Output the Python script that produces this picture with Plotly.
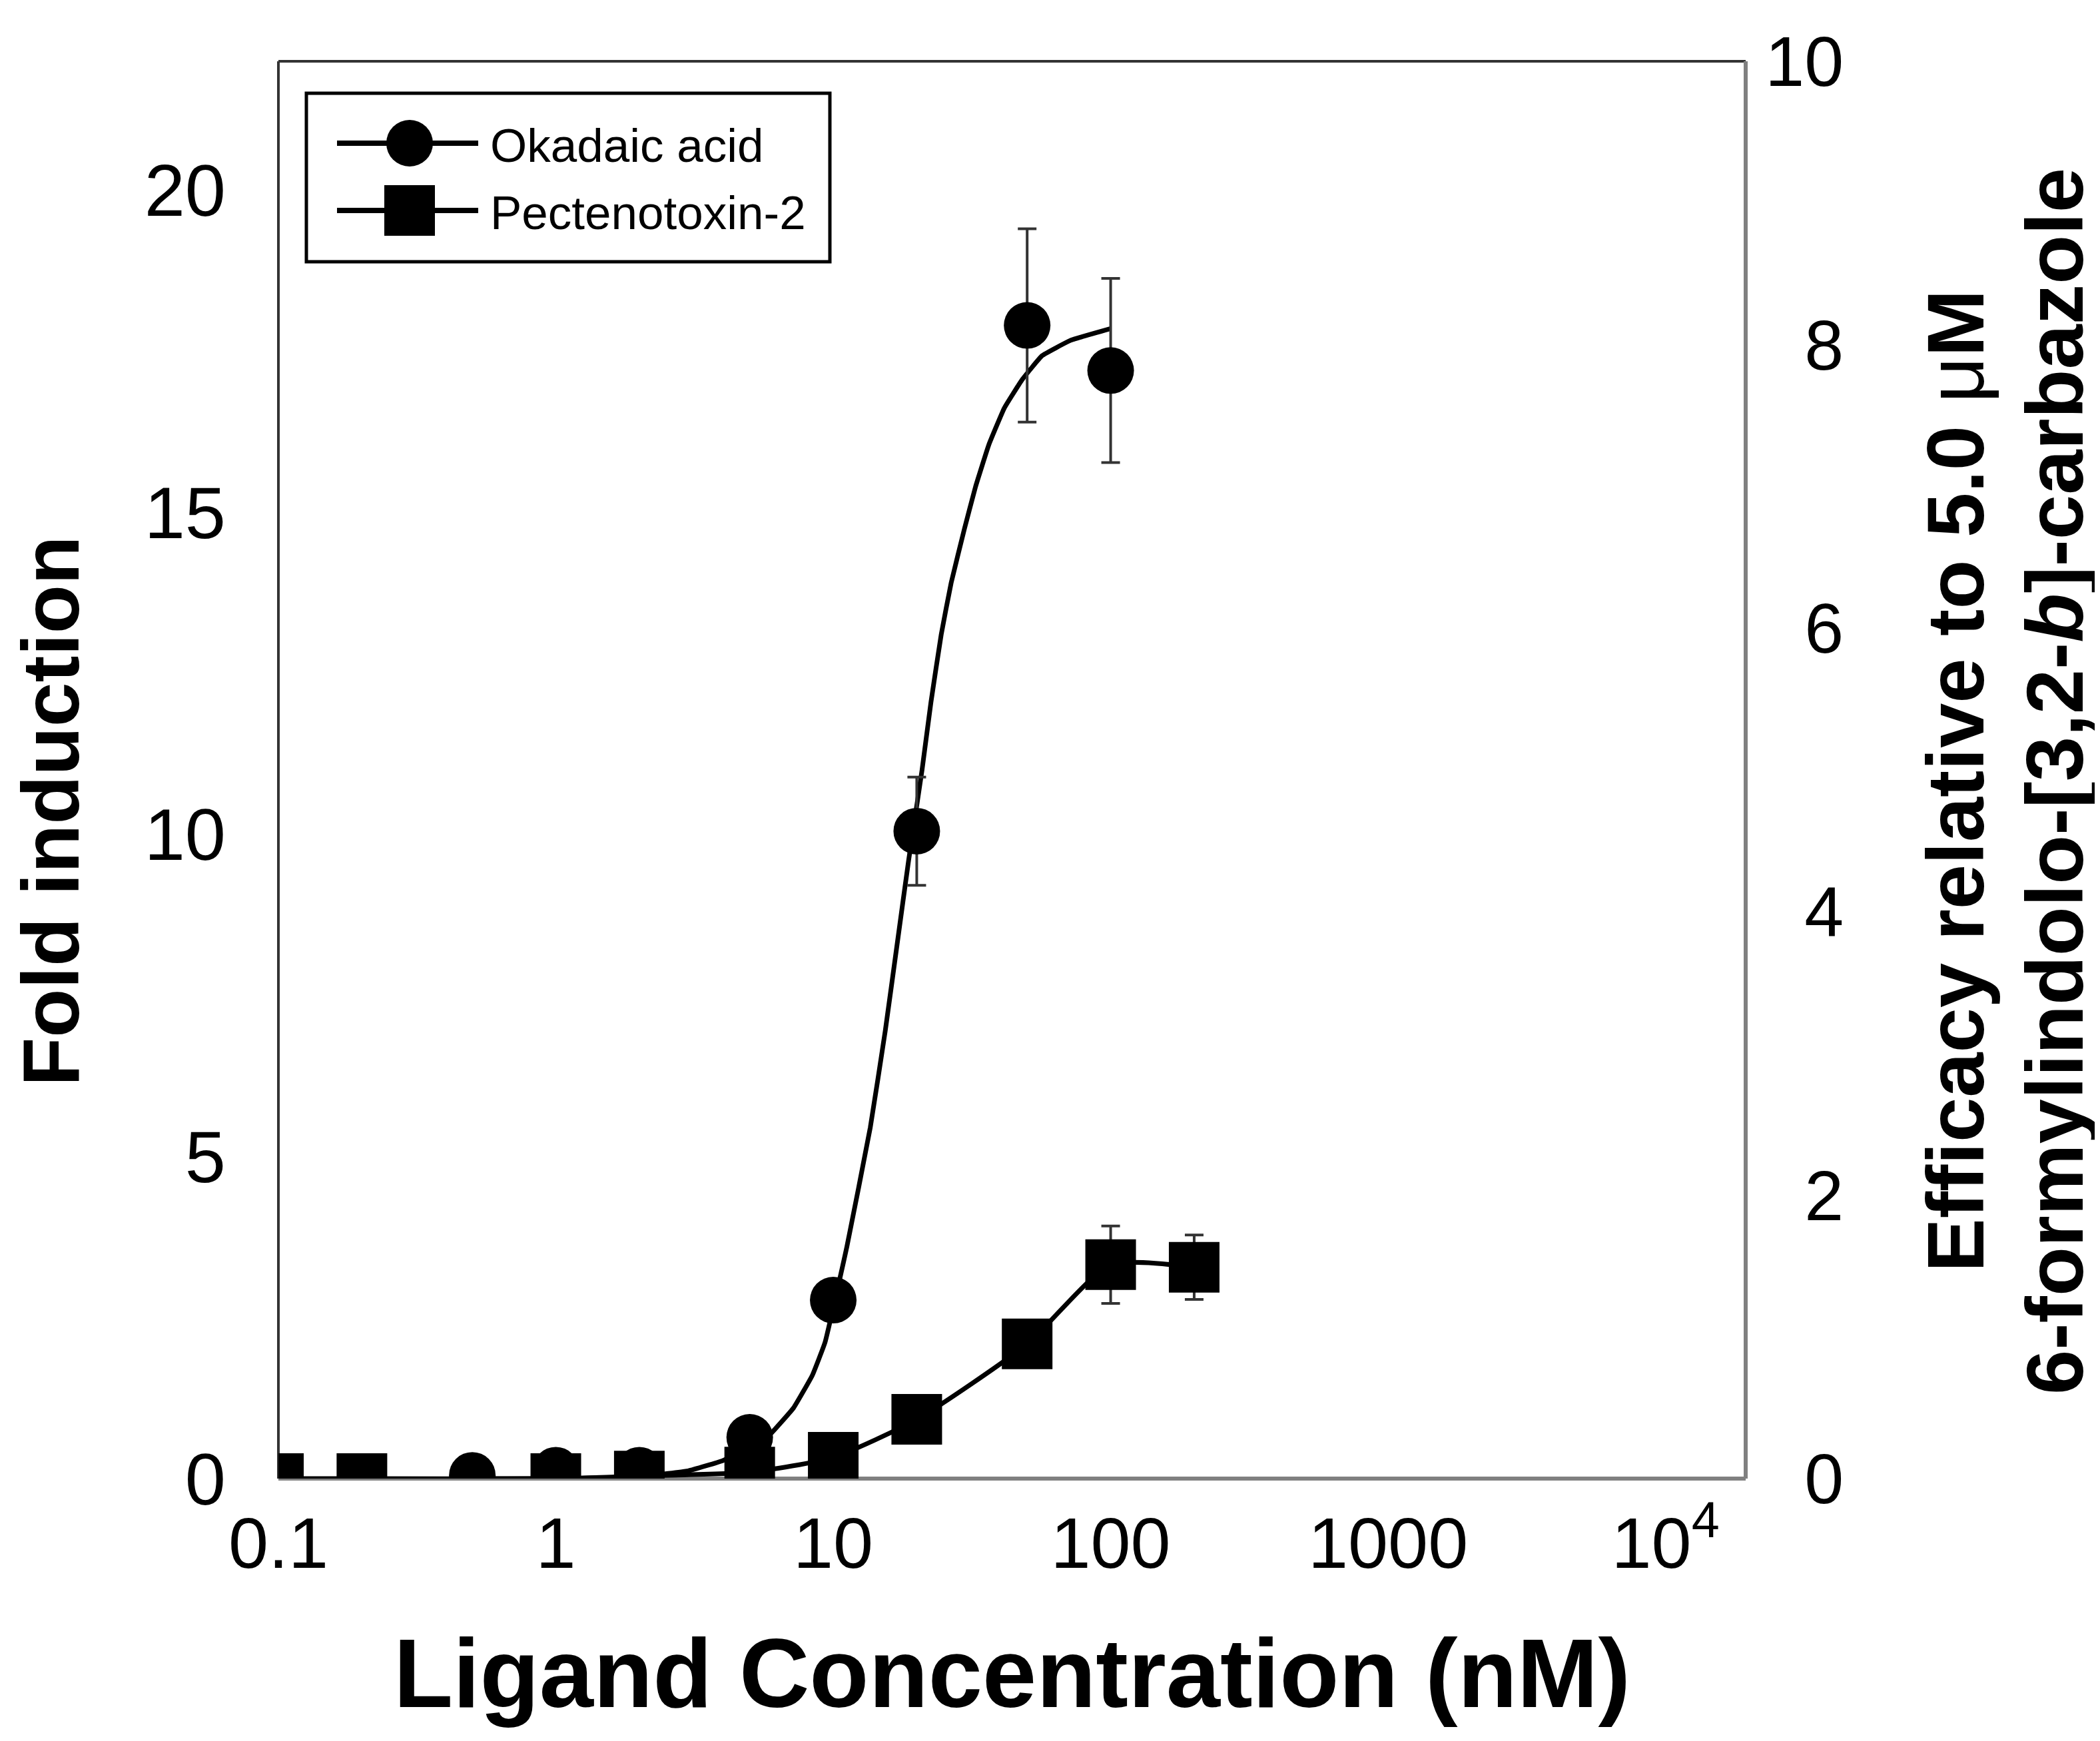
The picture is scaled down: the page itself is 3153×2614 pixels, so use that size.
import plotly.graph_objects as go

# ---------------- data ----------------
oa_x = [0.5, 1, 2, 5, 10, 20, 50, 100]
oa_y = [0.05, 0.13, 0.13, 0.64, 2.77, 10.05, 17.9, 17.2]
oa_err = [0, 0, 0, 0, 0, 0.84, 1.5, 1.43]

ptx_x = [0.1, 0.2, 1, 2, 5, 10, 20, 50, 100, 200]
ptx_y = [0.0, 0.0, 0.0, 0.04, 0.1, 0.33, 0.92, 2.09, 3.32, 3.28]
ptx_err = [0, 0, 0, 0, 0, 0, 0, 0, 0.6, 0.5]

# fitted okadaic acid curve
oa_fit_x = [0.5, 1, 2, 3, 4, 5, 5.9, 7.2, 8.4, 9.35, 11.2, 13.6, 15.4, 17,
            18.7, 20.9, 22.5, 24.5, 26.6, 29.7, 32.6, 36.4, 41.4, 48, 56.6,
            71.9, 100]
oa_fit_y = [0.0, 0.0, 0.03, 0.12, 0.28, 0.5, 0.68, 1.1, 1.6, 2.12, 3.6, 5.45,
            6.95, 8.3, 9.6, 11.0, 12.05, 13.1, 13.9, 14.74, 15.4, 16.05,
            16.62, 17.06, 17.43, 17.67, 17.85]

x_tickvals = [0.1, 1, 10, 100, 1000, 10000]
x_ticktext = ["0.1", "1", "10", "100", "1000", "10<sup>4</sup>"]
y_tickvals = [0, 5, 10, 15, 20]
y2_tickvals = [0, 2, 4, 6, 8, 10]
y2_ticktext = ["\u20070", "\u20072", "\u20074", "\u20076", "\u20078", "10"]

series_names = ["Okadaic acid", "Pectenotoxin-2"]

# ---------------- layout geometry (pixels) ----------------
W, H = 3153, 2614
L, R, T, B = 410, 2613, 84, 2212
FONT = "Liberation Sans, Arial, sans-serif"


def px(xp):
    return (xp - L) / (R - L)


def py(yp):
    return (B - yp) / (B - T)


fig = go.Figure()

# fitted curve
fig.add_trace(go.Scatter(
    x=oa_fit_x, y=oa_fit_y, mode="lines",
    line=dict(color="black", width=7, shape="spline", smoothing=0.3),
    showlegend=False, hoverinfo="skip"))

# pectenotoxin-2
fig.add_trace(go.Scatter(
    x=ptx_x, y=ptx_y, mode="lines+markers", name=series_names[1],
    line=dict(color="black", width=7, shape="spline", smoothing=0.6),
    marker=dict(symbol="square", size=76, color="black"),
    error_y=dict(type="data", array=ptx_err, color="#333333",
                 thickness=4, width=14),
    showlegend=False))

# okadaic acid points
fig.add_trace(go.Scatter(
    x=oa_x, y=oa_y, mode="markers", name=series_names[0],
    marker=dict(symbol="circle", size=70, color="black"),
    error_y=dict(type="data", array=oa_err, color="#333333",
                 thickness=4, width=14),
    showlegend=False))

# empty trace so that the right-hand axis is drawn
fig.add_trace(go.Scatter(x=[None], y=[None], yaxis="y2", mode="markers",
                         showlegend=False, hoverinfo="skip"))

shapes = []
# frame
shapes.append(dict(type="line", xref="paper", yref="paper", x0=0, x1=0, y0=0, y1=1,
                   line=dict(color="#333333", width=4), layer="below"))
shapes.append(dict(type="line", xref="paper", yref="paper", x0=0, x1=1, y0=1, y1=1,
                   line=dict(color="#333333", width=4), layer="below"))
shapes.append(dict(type="line", xref="paper", yref="paper", x0=1, x1=1, y0=0, y1=1,
                   line=dict(color="#808080", width=6), layer="below"))
shapes.append(dict(type="line", xref="paper", yref="paper", x0=0, x1=1, y0=0, y1=0,
                   line=dict(color="#808080", width=6), layer="below"))

# legend box
shapes.append(dict(type="rect", xref="paper", yref="paper",
                   x0=px(452), x1=px(1238), y0=py(385), y1=py(132),
                   line=dict(color="black", width=5), fillcolor="white", layer="above"))
for ry in [207, 308]:
    shapes.append(dict(type="line", xref="paper", yref="paper",
                       x0=px(498), x1=px(710), y0=py(ry), y1=py(ry),
                       line=dict(color="black", width=8), layer="above"))
# legend glyphs
shapes.append(dict(type="circle", xref="paper", yref="paper",
                   x0=px(607 - 35), x1=px(607 + 35), y0=py(207 + 35), y1=py(207 - 35),
                   line=dict(color="black", width=0), fillcolor="black", layer="above"))
shapes.append(dict(type="rect", xref="paper", yref="paper",
                   x0=px(607 - 38), x1=px(607 + 38), y0=py(308 + 38), y1=py(308 - 38),
                   line=dict(color="black", width=0), fillcolor="black", layer="above"))

annotations = []
for name, ry in zip(series_names, [210, 311]):
    annotations.append(dict(text=name, xref="paper", yref="paper",
                            x=px(726), y=py(ry), xanchor="left", yanchor="middle",
                            showarrow=False, font=dict(family=FONT, size=71, color="black")))

# left axis title
annotations.append(dict(text="<b>Fold induction</b>", xref="paper", yref="paper",
                        x=px(68), y=py(1210), xanchor="center", yanchor="middle",
                        textangle=-90, showarrow=False,
                        font=dict(family=FONT, size=120, color="black")))
# right axis title (two lines)
annotations.append(dict(text="<b>Efficacy relative to 5.0 </b>\u03bc<b>M</b>",
                        xref="paper", yref="paper",
                        x=px(2928), y=py(1165), xanchor="center", yanchor="middle",
                        textangle=-90, showarrow=False,
                        font=dict(family=FONT, size=121, color="black")))
annotations.append(dict(text="<b>6-formylindolo-[3,2-<i>b</i>]-carbazole</b>",
                        xref="paper", yref="paper",
                        x=px(3077), y=py(1165), xanchor="center", yanchor="middle",
                        textangle=-90, showarrow=False,
                        font=dict(family=FONT, size=121, color="black")))

fig.update_layout(
    width=W, height=H,
    margin=dict(l=L, r=W - R, t=T, b=H - B, pad=0),
    paper_bgcolor="white", plot_bgcolor="white",
    showlegend=False,
    font=dict(family=FONT, color="black"),
    xaxis=dict(type="log", range=[-1, 4.289], tickvals=x_tickvals, ticktext=x_ticktext,
               showgrid=False, zeroline=False, showline=False,
               ticks="outside", ticklen=3, tickcolor="rgba(0,0,0,0)",
               tickfont=dict(family=FONT, size=108, color="black"),
               title=dict(text="<b>Ligand Concentration (nM)</b>", standoff=85,
                          font=dict(family=FONT, size=146, color="black"))),
    yaxis=dict(range=[0, 22], tickvals=y_tickvals,
               showgrid=False, zeroline=False, showline=False,
               ticks="outside", ticklen=56, tickcolor="rgba(0,0,0,0)",
               tickfont=dict(family=FONT, size=110, color="black")),
    yaxis2=dict(range=[0, 10], tickvals=y2_tickvals, ticktext=y2_ticktext,
                overlaying="y", side="right",
                showgrid=False, zeroline=False, showline=False,
                ticks="outside", ticklen=7, tickcolor="rgba(0,0,0,0)",
                tickfont=dict(family=FONT, size=106, color="black")),
    shapes=shapes, annotations=annotations,
)

fig.write_html("out.html")
